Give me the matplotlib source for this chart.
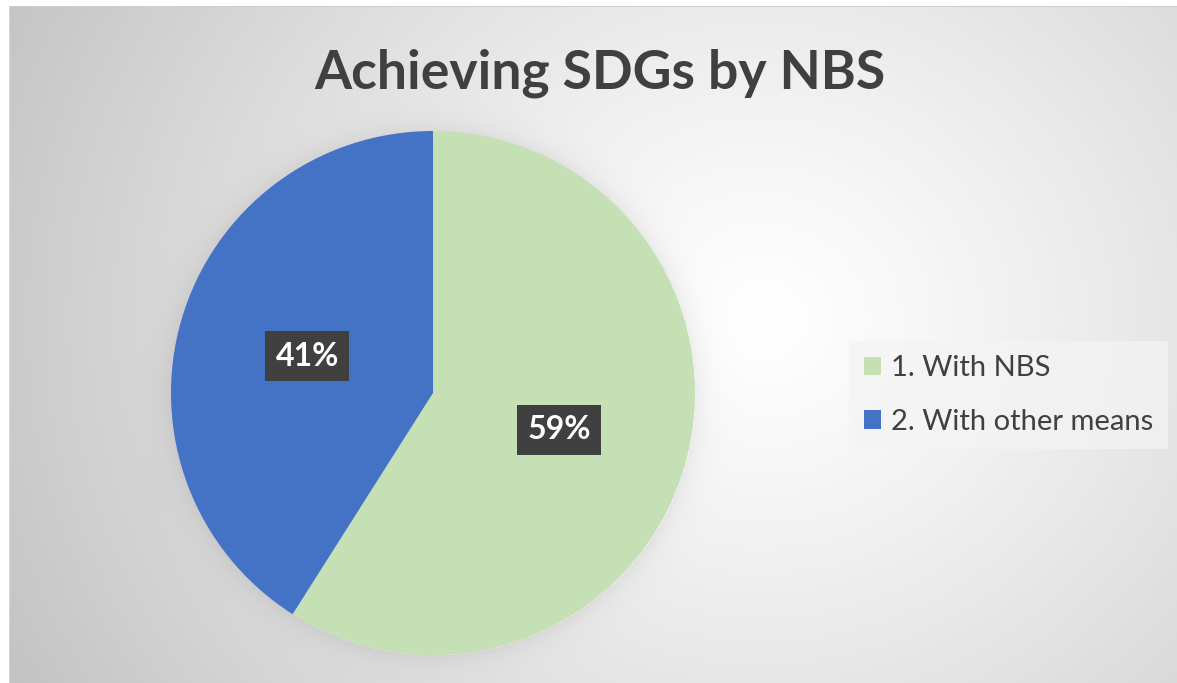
import numpy as np
import matplotlib.pyplot as plt

title = "Achieving SDGs by NBS"
categories = ["1. With NBS", "2. With other means"]
values = [59, 41]
colors = ["#C5E0B4", "#4472C4"]

W, H = 1177, 683
fig = plt.figure(figsize=(W / 100, H / 100), dpi=100)
ax = fig.add_axes([0, 0, 1, 1])

# background radial gradient with soft pie shadow
yy, xx = np.mgrid[0:H, 0:W].astype(float)
cx, cy = 760, 320
d = np.hypot(xx - cx, (yy - cy) * 1.1)
v = 255 - 60 * np.clip(d / 850, 0, 1.3) ** 1.2
pcx, pcy, R = 433, 393, 262
dp = np.hypot(xx - pcx, yy - pcy)
v = v - 14 * np.exp(-np.clip(dp - R, 0, None) / 12) * (dp > R)
v[:, :9] = 255
v[:6, :] = 255
v[6, 9:] = 205
v[6:, 9] = 215
img = np.repeat((v / 255.0)[:, :, None], 3, axis=2)
ax.imshow(img, extent=(0, W, 0, H), origin="upper", interpolation="bilinear")

wedges, texts, autotexts = ax.pie(
    values, colors=colors, startangle=90, counterclock=False,
    center=(pcx, H - pcy), radius=R, autopct="%1.0f%%", pctdistance=0.5,
    wedgeprops=dict(linewidth=0),
    textprops=dict(color="white", fontsize=23, fontweight="bold", family="Lato"),
)
for t in autotexts:
    t.set_bbox(dict(boxstyle="square,pad=0.33", fc="#404040", ec="none"))

ax.set_xlim(0, W)
ax.set_ylim(0, H)
ax.set_aspect("auto")
ax.axis("off")

ax.text(600, H - 88, title, ha="center", va="baseline", fontsize=38.5,
        fontweight="bold", color="#404040", family="Lato")

leg = ax.legend(
    wedges, categories, loc="center left",
    bbox_to_anchor=(849 / W, 1 - 395 / H), bbox_transform=fig.transFigure,
    frameon=True, fancybox=False, facecolor="#f4f4f4",
    edgecolor="none", framealpha=0.7, handlelength=0.58, handleheight=0.58,
    handletextpad=0.35, labelspacing=0.95, borderpad=0.5, borderaxespad=0,
    prop=dict(family="Lato", size=21),
)
for t in leg.get_texts():
    t.set_color("#404040")

fig.savefig("out.png", dpi=100)
